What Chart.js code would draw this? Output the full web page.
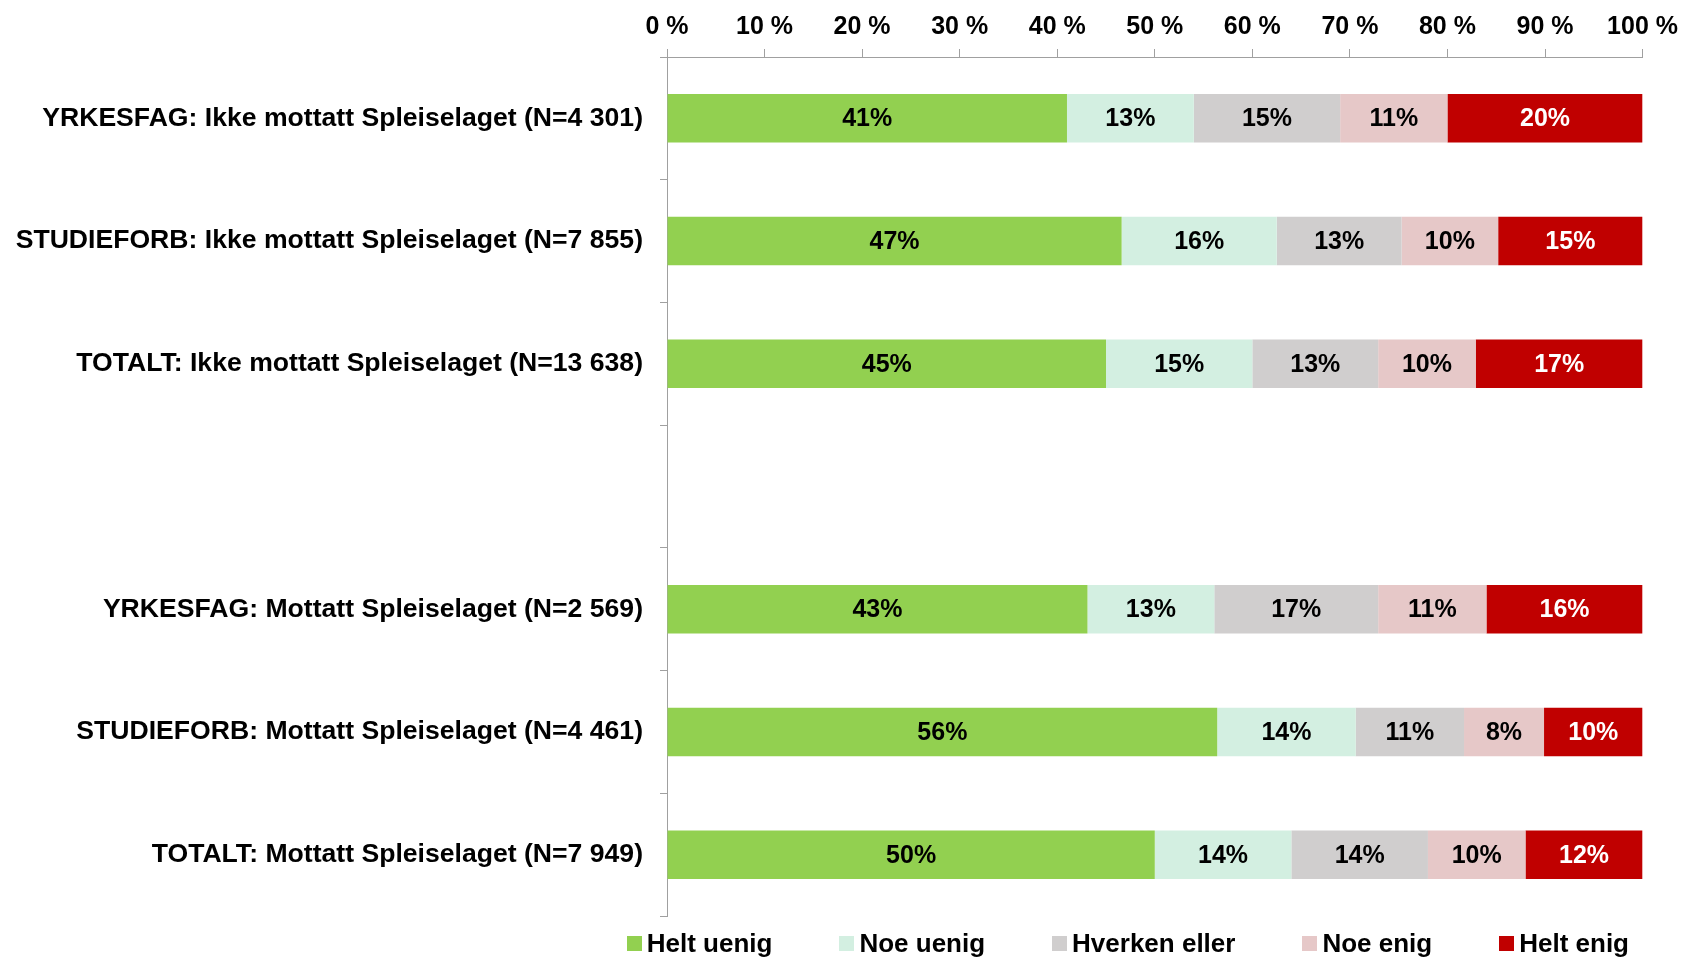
<!DOCTYPE html>
<html>
<head>
<meta charset="utf-8">
<script src="https://cdn.jsdelivr.net/npm/chart.js@4/dist/chart.umd.min.js"></script>
<style>
  html, body { margin: 0; padding: 0; background: #fff; }
  #wrap { position: relative; width: 1685px; height: 957px; }
  #legend { position: absolute; right: 56px; top: 928px; display: flex; gap: 67px;
            font: bold 26px "Liberation Sans", Arial, sans-serif; color: #000; line-height: 30px; }
  .item { display: flex; align-items: center; white-space: nowrap; }
  .box { width: 15px; height: 15px; margin-right: 5px; }
</style>
</head>
<body>
<div id="wrap">
  <canvas id="c" width="1685" height="957"></canvas>
  <div id="legend"></div>
</div>
<script>
const categories = [
  'YRKESFAG: Ikke mottatt Spleiselaget (N=4 301)',
  'STUDIEFORB: Ikke mottatt Spleiselaget (N=7 855)',
  'TOTALT: Ikke mottatt Spleiselaget (N=13 638)',
  '',
  'YRKESFAG: Mottatt Spleiselaget (N=2 569)',
  'STUDIEFORB: Mottatt Spleiselaget (N=4 461)',
  'TOTALT: Mottatt Spleiselaget (N=7 949)'
];
const seriesNames = ['Helt uenig', 'Noe uenig', 'Hverken eller', 'Noe enig', 'Helt enig'];
const heltUenig   = [41.0, 46.6, 45.0, null, 43.1, 56.4, 50.0];
const noeUenig    = [13.0, 15.9, 15.0, null, 13.0, 14.2, 14.0];
const hverken     = [15.0, 12.8, 12.9, null, 16.8, 11.1, 14.0];
const noeEnig     = [11.0,  9.9, 10.0, null, 11.1,  8.2, 10.0];
const heltEnig    = [20.0, 14.8, 17.1, null, 16.0, 10.1, 12.0];
const xTickValues = [0, 10, 20, 30, 40, 50, 60, 70, 80, 90, 100];
const xTickLabels = ['0 %', '10 %', '20 %', '30 %', '40 %', '50 %', '60 %', '70 %', '80 %', '90 %', '100 %'];

const colors = ['#92D050', '#D3EFE1', '#D0CECE', '#E6C8C8', '#C00000'];
const labelColors = ['#000', '#000', '#000', '#000', '#fff'];
const seriesData = [heltUenig, noeUenig, hverken, noeEnig, heltEnig];
const FONT = '"Liberation Sans", Arial, sans-serif';
const axisColor = '#A0A0A0';

const barLabels = {
  id: 'barLabels',
  afterDatasetsDraw(chart) {
    const ctx = chart.ctx;
    chart.data.datasets.forEach((ds, i) => {
      const meta = chart.getDatasetMeta(i);
      meta.data.forEach((bar, j) => {
        const v = ds.data[j];
        if (v == null) return;
        const p = bar.getProps(['x', 'base', 'y'], true);
        ctx.save();
        ctx.font = 'bold 25px ' + FONT;
        ctx.fillStyle = labelColors[i];
        ctx.textAlign = 'center';
        ctx.textBaseline = 'middle';
        ctx.fillText(Math.round(v) + '%', (p.x + p.base) / 2, p.y + 1);
        ctx.restore();
      });
    });
  }
};

const chart = new Chart(document.getElementById('c'), {
  type: 'bar',
  data: {
    labels: categories,
    datasets: seriesNames.map((n, i) => ({
      label: n,
      data: seriesData[i],
      backgroundColor: colors[i],
      borderWidth: 0,
      categoryPercentage: 1,
      barPercentage: 0.395
    }))
  },
  options: {
    indexAxis: 'y',
    responsive: false,
    animation: false,
    devicePixelRatio: 1,
    layout: { padding: { top: 0, right: 40, bottom: 41, left: 0 } },
    plugins: { legend: { display: false }, tooltip: { enabled: false } },
    scales: {
      x: {
        type: 'linear',
        position: 'top',
        stacked: true,
        min: 0, max: 100,
        afterBuildTicks(s) { s.ticks = xTickValues.map(v => ({ value: v })); },
        ticks: {
          callback: (v) => xTickLabels[xTickValues.indexOf(v)],
          font: { family: FONT, size: 25, weight: 'bold' },
          color: '#000',
          padding: 7,
          maxRotation: 0
        },
        grid: { drawOnChartArea: false, drawTicks: true, tickLength: 8, color: axisColor },
        border: { display: true, color: axisColor, width: 1 },
        afterFit(s) { s.height = 57; }
      },
      y: {
        type: 'category',
        stacked: true,
        ticks: {
          font: { family: FONT, size: 26.6, weight: 'bold' },
          color: '#000',
          padding: 17,
          autoSkip: false
        },
        grid: { offset: true, drawOnChartArea: false, drawTicks: true, tickLength: 7, color: axisColor },
        border: { display: true, color: axisColor, width: 1 },
        afterFit(s) { s.width = 667; }
      }
    }
  },
  plugins: [barLabels]
});

const legend = document.getElementById('legend');
seriesNames.forEach((n, i) => {
  const item = document.createElement('div');
  item.className = 'item';
  const box = document.createElement('span');
  box.className = 'box';
  box.style.background = colors[i];
  const t = document.createElement('span');
  t.textContent = n;
  item.appendChild(box);
  item.appendChild(t);
  legend.appendChild(item);
});
</script>
</body>
</html>
